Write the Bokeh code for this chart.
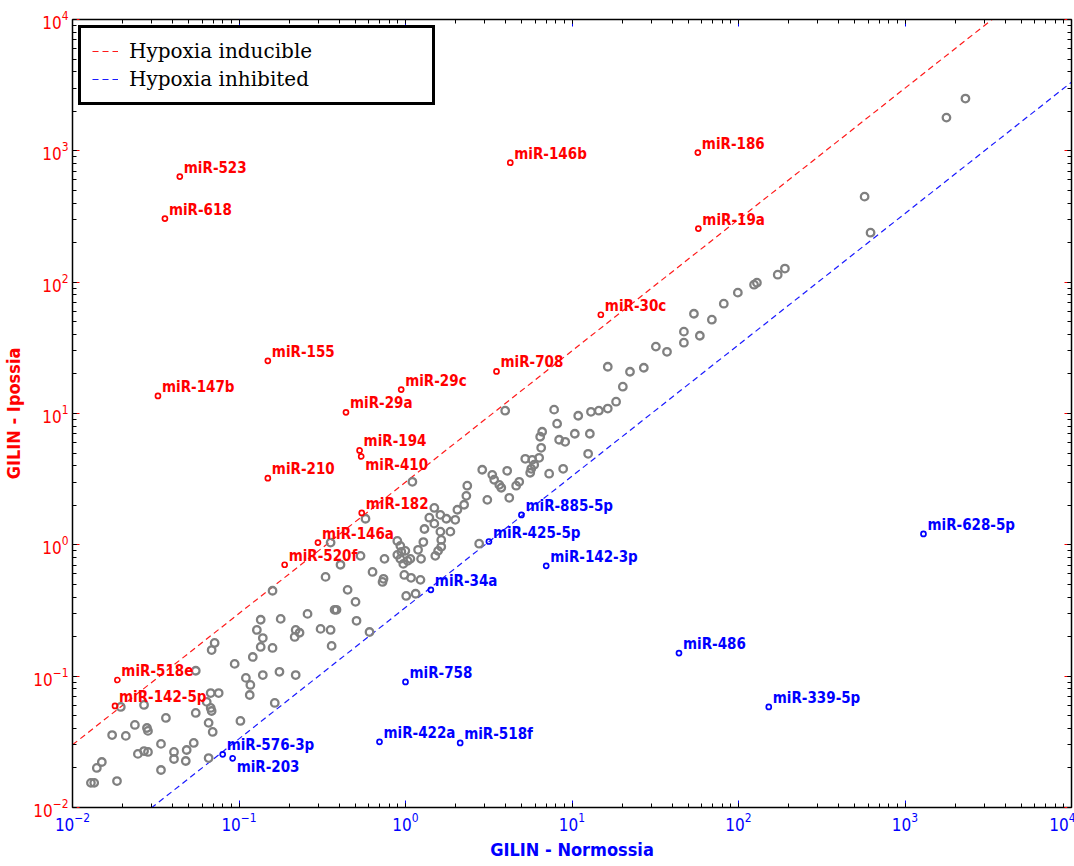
from bokeh.plotting import figure
from bokeh.models import LogAxis, LogTicker, Legend, LegendItem, CustomJSTickFormatter
from bokeh.core.properties import value
from bokeh.embed import file_html
from bokeh.resources import INLINE

# ---------------- data ----------------
gray_x = [0.0129, 0.0135, 0.0140, 0.0150, 0.0173, 0.0185, 0.0195, 0.0209, 0.0237, 0.0247,
          0.0269, 0.0269, 0.0280, 0.0284, 0.0284, 0.0340, 0.0340, 0.0364, 0.0407, 0.0407,
          0.0485, 0.0479, 0.0535, 0.0550, 0.0550, 0.0640, 0.0657, 0.0657, 0.0676, 0.0676,
          0.0685, 0.0695, 0.0685, 0.0714, 0.0755, 0.0942, 0.102, 0.110, 0.117, 0.116,
          0.121, 0.128, 0.135, 0.135, 0.139, 0.139, 0.159, 0.159, 0.164, 0.175,
          0.178, 0.219, 0.231, 0.216, 0.219, 0.258, 0.309, 0.331, 0.355, 0.355,
          0.360, 0.375, 0.385, 0.407, 0.449, 0.501, 0.508, 0.537, 0.575, 0.608,
          0.634, 0.738, 0.728, 0.748, 0.893, 0.931, 0.944, 0.998, 0.893, 0.931,
          0.970, 1.03, 1.07, 0.984, 1.08, 1.23, 1.01, 1.15, 1.19, 1.24,
          1.28, 1.30, 1.10, 1.39, 1.49, 1.62, 1.76, 1.49, 1.62, 1.64,
          1.64, 1.57, 1.51, 1.86, 1.99, 2.05, 2.25, 2.32, 2.35, 2.77,
          3.10, 2.89, 3.32, 3.41, 3.66, 3.76, 3.97, 4.08, 4.20, 4.62,
          4.82, 5.24, 5.77, 5.93, 5.69, 5.61, 6.35, 6.53, 6.44, 6.62,
          7.29, 7.81, 8.14, 8.37, 9.10, 8.85, 10.4, 10.9, 12.5, 12.8,
          13.0, 14.5, 16.4, 16.4, 18.4, 20.2, 22.3, 27.0, 31.9, 37.2,
          47.0, 47.0, 54.0, 58.6, 69.2, 81.6, 99.1, 124, 129, 172,
          190, 572, 621, 1774, 2307]
gray_y = [0.0154, 0.0154, 0.0200, 0.0222, 0.0356, 0.0159, 0.0583, 0.0351, 0.0425, 0.0256,
          0.0604, 0.0269, 0.0403, 0.0383, 0.0265, 0.0305, 0.0193, 0.0481, 0.0265, 0.0234,
          0.0274, 0.0226, 0.0310, 0.0525, 0.110, 0.0637, 0.0441, 0.0238, 0.0744, 0.0573,
          0.0543, 0.0376, 0.158, 0.179, 0.0744, 0.124, 0.0456, 0.0970, 0.0857, 0.0719,
          0.140, 0.225, 0.167, 0.269, 0.195, 0.102, 0.447, 0.164, 0.0625, 0.108,
          0.273, 0.225, 0.214, 0.199, 0.102, 0.298, 0.229, 0.570, 1.04, 0.225,
          0.170, 0.320, 0.320, 0.705, 0.454, 0.368, 0.264, 0.824, 1.58, 0.217,
          0.622, 0.551, 0.522, 0.782, 1.07, 0.982, 0.885, 0.900, 0.839, 0.782,
          0.716, 0.755, 0.782, 0.590, 0.561, 0.541, 0.408, 0.424, 0.916, 0.782,
          1.05, 1.32, 3.02, 1.61, 1.91, 1.69, 1.58, 1.45, 1.26, 1.09,
          0.966, 0.900, 0.824, 1.26, 1.55, 1.85, 2.02, 2.36, 2.82, 1.02,
          2.20, 3.73, 3.41, 3.13, 2.86, 2.72, 10.5, 3.66, 2.28, 2.82,
          3.02, 4.52, 4.44, 4.07, 3.79, 3.54, 4.60, 5.48, 6.65, 7.26,
          3.48, 10.7, 8.36, 6.31, 6.09, 3.79, 7.01, 9.61, 4.93, 7.01,
          10.3, 10.5, 10.9, 22.7, 12.3, 16.0, 20.8, 22.3, 32.3, 29.5,
          42.0, 34.6, 57.5, 39.1, 51.8, 68.6, 83.2, 95.7, 99.1, 114,
          127, 448, 238, 1791, 2500]

induced_names = ["miR-523", "miR-618", "miR-146b", "miR-186", "miR-19a", "miR-30c",
                 "miR-708", "miR-29c", "miR-29a", "miR-155", "miR-147b", "miR-194",
                 "miR-410", "miR-210", "miR-182", "miR-146a", "miR-520f", "miR-518e",
                 "miR-142-5p"]
induced_x = [0.0441, 0.0359, 4.26, 57.0, 57.4, 14.9, 3.52, 0.942, 0.439, 0.149, 0.0326,
             0.530, 0.542, 0.149, 0.546, 0.298, 0.188, 0.0186, 0.0180]
induced_y = [637, 305, 813, 970, 256, 56.5, 20.9, 15.2, 10.2, 25.2, 13.6,
             5.23, 4.71, 3.22, 1.75, 1.04, 0.705, 0.0935, 0.0593]

inhibited_names = ["miR-628-5p", "miR-885-5p", "miR-425-5p", "miR-142-3p", "miR-34a",
                   "miR-486", "miR-758", "miR-339-5p", "miR-422a", "miR-518f",
                   "miR-576-3p", "miR-203"]
inhibited_x = [1291, 4.97, 3.17, 7.00, 1.42, 43.9, 1.00, 152, 0.698, 2.13, 0.0798, 0.0916]
inhibited_y = [1.21, 1.69, 1.06, 0.692, 0.454, 0.150, 0.0904, 0.0583, 0.0316, 0.0310,
               0.0254, 0.0237]

inducible_ratio = 3.0        # red dashed threshold  y = 3 x
inhibited_ratio = 1.0 / 3.0  # blue dashed threshold y = x / 3
axis_limits = (1e-2, 1e4)
legend_labels = ["Hypoxia inducible", "Hypoxia inhibited"]
x_title = "GILIN - Normossia"
y_title = "GILIN - Ipossia"
labels_below = {"miR-410", "miR-203"}

# ---------------- styling ----------------
SANS = "DejaVu Sans Condensed"
RED = "#ff0000"
BLUE = "#0000ff"

p = figure(x_axis_type="log", y_axis_type="log",
           x_range=axis_limits, y_range=axis_limits,
           frame_width=999, frame_height=788,
           min_border_left=67, min_border_top=19, min_border_right=2, min_border_bottom=46,
           output_backend="svg", toolbar_location=None)
p.grid.grid_line_color = None
p.outline_line_color = "black"
p.outline_line_width = 1.5
p.outline_line_alpha = 1.0
p.background_fill_color = "white"

def style_axis(ax, major_color, label_color, show_labels=True):
    ax.ticker = LogTicker(num_minor_ticks=10, desired_num_ticks=7)
    ax.major_tick_in = 7
    ax.major_tick_out = 0
    ax.minor_tick_in = 4
    ax.minor_tick_out = 0
    ax.major_tick_line_color = major_color
    ax.minor_tick_line_color = "black"
    ax.axis_line_color = "black"
    ax.major_label_text_font = SANS
    ax.major_label_text_color = label_color
    if show_labels:
        ax.major_label_text_font_size = "17px"
        ax.major_label_standoff = 4
    else:
        ax.formatter = CustomJSTickFormatter(code="return ' '")
        ax.major_label_text_font_size = "2px"
        ax.major_label_standoff = 0

xa = p.xaxis[0]
ya = p.yaxis[0]
style_axis(xa, BLUE, BLUE)
style_axis(ya, RED, RED)
xa.axis_label = x_title
xa.axis_label_text_color = BLUE
xa.axis_label_text_font = SANS
xa.axis_label_text_font_style = "bold"
xa.axis_label_text_font_size = "18px"
xa.axis_label_standoff = 5
ya.axis_label = y_title
ya.axis_label_text_color = RED
ya.axis_label_text_font = SANS
ya.axis_label_text_font_style = "bold"
ya.axis_label_text_font_size = "18px"
ya.axis_label_standoff = 6

top = LogAxis()
style_axis(top, BLUE, BLUE, show_labels=False)
p.add_layout(top, "above")
right = LogAxis()
style_axis(right, RED, RED, show_labels=False)
p.add_layout(right, "right")

# threshold lines
line_x = list(axis_limits)
red_line = p.line(x=line_x, y=[v * inducible_ratio for v in line_x],
                  line_color=RED, line_width=1.2, line_dash="6 4", line_alpha=0.9)
blue_line = p.line(x=line_x, y=[v * inhibited_ratio for v in line_x],
                   line_color=BLUE, line_width=1.2, line_dash="6 4", line_alpha=0.9)

# gray (unlabelled) miRNAs
p.scatter(x=gray_x, y=gray_y, marker="circle", size=7.5, fill_color=None,
          line_color="#808080", line_width=2.3)

# labelled miRNAs
def add_group(names, xs, ys, color):
    p.scatter(x=xs, y=ys, marker="circle", size=5, fill_color=None,
              line_color=color, line_width=1.7)
    above = [i for i, n in enumerate(names) if n not in labels_below]
    below = [i for i, n in enumerate(names) if n in labels_below]
    for idx, baseline, yoff in ((above, "alphabetic", -9), (below, "top", 0)):
        if not idx:
            continue
        p.text(x=[xs[i] for i in idx], y=[ys[i] for i in idx],
               text=[names[i] for i in idx],
               text_color=color, text_font=value(SANS), text_font_style="bold",
               text_font_size="15px", text_baseline=baseline, text_align="left",
               x_offset=4, y_offset=yoff)

add_group(induced_names, induced_x, induced_y, RED)
add_group(inhibited_names, inhibited_x, inhibited_y, BLUE)

legend = Legend(items=[LegendItem(label=legend_labels[0], renderers=[red_line]),
                       LegendItem(label=legend_labels[1], renderers=[blue_line])],
                location="top_left", margin=6, padding=11, spacing=4,
                label_height=24, label_width=292, glyph_width=26, glyph_height=24,
                label_standoff=11, border_line_color="black", border_line_width=3,
                border_line_alpha=1.0,
                background_fill_color="white", background_fill_alpha=1.0,
                label_text_font="DejaVu Serif", label_text_font_size="20px",
                label_text_color="black")
p.add_layout(legend)

open("out.html", "w").write(file_html(p, INLINE))
